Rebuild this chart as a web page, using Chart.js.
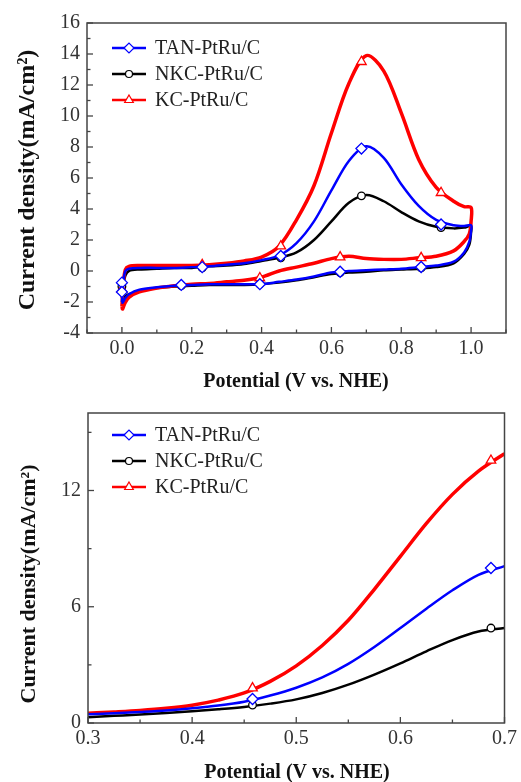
<!DOCTYPE html>
<html>
<head>
<meta charset="utf-8">
<script src="https://cdn.jsdelivr.net/npm/chart.js@4.4.0/dist/chart.umd.min.js"></script>
<style>
html,body{margin:0;padding:0;background:#fff}
#wrap{position:relative;width:521px;height:782px}
.box{position:absolute;left:0;width:521px}
</style>
</head>
<body>
<div id="wrap">
  <div class="box" style="top:0;height:392px"><canvas id="cvChart"></canvas></div>
  <div class="box" style="top:392px;height:390px"><canvas id="lsvChart"></canvas></div>
</div>
<script>
// ---------- series ----------
const seriesNames=['TAN-PtRu/C','NKC-PtRu/C','KC-PtRu/C'];
const seriesColors=['#0000ff','#000000','#ff0000'];
const seriesMarkers=['rectRot','circle','triangle'];

// ---------- top: cyclic voltammogram (forward then backward sweep) ----------
const cvPotential=[0.000,0.004,0.010,0.020,0.05,0.10,0.15,0.20,0.25,0.30,0.35,0.40,0.45,0.50,0.55,0.60,0.65,0.70,0.75,0.80,0.85,0.90,0.95,0.98,1.00,
  1.00,0.995,0.98,0.95,0.90,0.85,0.80,0.75,0.70,0.65,0.60,0.55,0.50,0.45,0.40,0.35,0.30,0.25,0.20,0.15,0.10,0.05,0.02,0.008,0.002,0.000];
const cvTan=[-2.0,-0.7,0.0,0.15,0.2,0.2,0.2,0.25,0.3,0.4,0.5,0.7,1.0,1.8,3.2,5.2,7.1,8.05,7.3,5.6,4.2,3.3,2.95,2.9,2.95,
  2.6,1.9,1.2,0.6,0.35,0.25,0.15,0.1,0.05,0.0,-0.1,-0.35,-0.55,-0.7,-0.85,-0.85,-0.85,-0.85,-0.9,-0.95,-1.05,-1.2,-1.5,-1.8,-2.05,-2.0];
const cvNkc=[-1.75,-0.9,-0.3,0.0,0.1,0.15,0.2,0.2,0.3,0.35,0.45,0.65,0.85,1.2,2.0,3.2,4.4,4.9,4.5,3.8,3.2,2.85,2.75,2.8,2.9,
  2.5,1.7,1.1,0.5,0.25,0.15,0.1,0.05,-0.05,-0.1,-0.2,-0.4,-0.6,-0.75,-0.85,-0.9,-0.9,-0.9,-0.95,-1.0,-1.1,-1.3,-1.5,-1.65,-1.75,-1.75];
const cvKc=[-2.3,-0.8,0.1,0.3,0.35,0.35,0.35,0.35,0.4,0.5,0.65,0.9,1.6,3.3,5.5,8.9,12.1,13.9,12.9,10.2,7.2,5.4,4.5,4.15,4.1,
  3.2,2.4,1.9,1.3,0.95,0.85,0.75,0.75,0.8,0.95,0.8,0.5,0.25,0.0,-0.4,-0.6,-0.7,-0.8,-0.85,-0.95,-1.1,-1.35,-1.7,-2.1,-2.45,-2.3];
// symbols along the recorded curves
const cvTanMarkE=[0.0,0.0,0.17,0.23,0.395,0.455,0.625,0.686,0.857,0.914];
const cvTanMarkJ=[-0.75,-1.35,-0.9,0.25,-0.85,0.97,-0.05,7.9,0.26,3.0];
const cvNkcMarkE=[0.0,0.17,0.23,0.395,0.455,0.625,0.686,0.857,0.914];
const cvNkcMarkJ=[-1.0,-0.95,0.2,-0.85,0.85,-0.1,4.85,0.2,2.8];
const cvKcMarkE=[0.0,0.23,0.395,0.455,0.625,0.686,0.857,0.914];
const cvKcMarkJ=[-1.2,0.4,-0.45,1.6,0.9,13.5,0.85,5.05];
const cvXTicks=[0.0,0.2,0.4,0.6,0.8,1.0];
const cvXMinor=[-0.1,0.1,0.3,0.5,0.7,0.9,1.1];
const cvYTicks=[-4,-2,0,2,4,6,8,10,12,14,16];
const cvYMinor=[-3,-1,1,3,5,7,9,11,13,15];

// ---------- bottom: forward sweep 0.3-0.7 V ----------
const lsvPotential=[0.3,0.325,0.35,0.375,0.4,0.425,0.45,0.475,0.5,0.525,0.55,0.575,0.6,0.625,0.65,0.675,0.7];
const lsvTan=[0.45,0.5,0.57,0.65,0.76,0.9,1.1,1.42,1.82,2.35,3.05,3.92,4.9,5.9,6.85,7.65,8.1];
const lsvNkc=[0.3,0.37,0.44,0.52,0.61,0.71,0.83,1.0,1.22,1.55,1.98,2.5,3.08,3.7,4.28,4.72,4.9];
const lsvKc=[0.5,0.57,0.65,0.76,0.92,1.18,1.55,2.15,2.95,4.0,5.3,6.9,8.6,10.3,11.8,13.0,13.9];
const lsvMarkE=[0.458,0.687];
const lsvTanMarkJ=[1.24,8.0];
const lsvNkcMarkJ=[0.93,4.9];
const lsvKcMarkJ=[1.8,13.55];
const lsvXTicks=[0.3,0.4,0.5,0.6,0.7];
const lsvXMinor=[0.35,0.45,0.55,0.65];
const lsvYTicks=[0,6,12];
const lsvYMinor=[3,9,15];

const SERIF='"Liberation Serif","Times New Roman",serif';
const pts=(xs,ys)=>xs.map((x,i)=>({x,y:ys[i]}));

// frame, inward ticks, axis titles and legend
const decor={id:'decor',afterDatasetsDraw(chart,args,o){
  const {ctx,chartArea:a,scales:{x,y}}=chart;
  ctx.save();
  ctx.strokeStyle='#444';ctx.lineWidth=1.5;
  ctx.strokeRect(a.left,a.top,a.right-a.left,a.bottom-a.top);
  ctx.lineWidth=1.3;
  const tk=(vals,len,hz)=>vals.forEach(v=>{
    ctx.beginPath();
    if(hz){const p=x.getPixelForValue(v);ctx.moveTo(p,a.bottom);ctx.lineTo(p,a.bottom-len);}
    else{const p=y.getPixelForValue(v);ctx.moveTo(a.left,p);ctx.lineTo(a.left+len,p);}
    ctx.stroke();
  });
  tk(o.xMajor,6,true);tk(o.xMinor,3.5,true);tk(o.yMajor,6,false);tk(o.yMinor,3.5,false);

  // titles
  ctx.fillStyle='#111';ctx.textAlign='center';ctx.textBaseline='middle';
  ctx.font='bold '+o.xTitle.size+'px '+SERIF;
  ctx.fillText(o.xTitle.text,o.xTitle.x,o.xTitle.y);
  ctx.save();
  ctx.translate(o.yTitle.x,o.yTitle.y);ctx.rotate(-Math.PI/2);
  ctx.font='bold '+o.yTitle.size+'px '+SERIF;
  ctx.fillText(o.yTitle.text,0,0);
  ctx.restore();

  // legend
  ctx.textAlign='left';ctx.font='20px '+SERIF;
  seriesNames.forEach((name,i)=>{
    const ly=o.legend.y+i*o.legend.gap;
    ctx.strokeStyle=seriesColors[i];ctx.lineWidth=2.5;
    ctx.beginPath();ctx.moveTo(112,ly);ctx.lineTo(146,ly);ctx.stroke();
    ctx.fillStyle='#fff';ctx.lineWidth=1.2;
    Chart.helpers.drawPoint(ctx,{pointStyle:seriesMarkers[i],radius:i===1?3.5:5,rotation:0,borderWidth:1.2},129,ly);
    ctx.fillStyle='#222';
    ctx.fillText(name,155,ly+1);
  });
  ctx.restore();
}};

function makeChart(id,lines,marks,ax,deco,padTop,smooth){
  const order=[0,2,1]; // blue on top, then red, black underneath
  const datasets=[];
  lines.forEach((d,i)=>datasets.push(Object.assign({
    label:seriesNames[i],data:d,showLine:true,borderColor:seriesColors[i],
    borderWidth:i===2?3.5:2.5,pointRadius:0,order:order[i]+3
  },smooth)));
  marks.forEach((d,i)=>datasets.push({
    label:seriesNames[i]+' symbols',data:d,showLine:false,pointStyle:seriesMarkers[i],
    pointRadius:i===1?3.8:5.5,pointBorderColor:seriesColors[i],pointBackgroundColor:'#fff',
    pointBorderWidth:1.3,order:order[i]
  }));
  const tickFont={family:SERIF,size:20};
  return new Chart(document.getElementById(id),{
    type:'scatter',
    data:{datasets},
    options:{
      responsive:true,maintainAspectRatio:false,animation:false,devicePixelRatio:1,
      layout:{padding:{top:padTop,right:15,left:0,bottom:0}},
      plugins:{legend:{display:false},tooltip:{enabled:false},decor:deco},
      scales:{
        x:{type:'linear',min:ax.xMin,max:ax.xMax,
          grid:{display:false,drawTicks:false},border:{display:false},
          afterBuildTicks:s=>{s.ticks=ax.xTicks.map(v=>({value:v}));},
          afterFit:s=>{s.height=59;},
          ticks:{color:'#333',font:tickFont,padding:4,maxRotation:0,autoSkip:false,callback:v=>v.toFixed(1)}},
        y:{type:'linear',min:ax.yMin,max:ax.yMax,
          grid:{display:false,drawTicks:false},border:{display:false},
          afterBuildTicks:s=>{s.ticks=ax.yTicks.map(v=>({value:v}));},
          afterFit:s=>{s.width=ax.yWidth;},
          ticks:{color:'#333',font:tickFont,padding:7,autoSkip:false,callback:v=>String(v)}}
      }
    },
    plugins:[decor]
  });
}

makeChart('cvChart',
  [pts(cvPotential,cvTan),pts(cvPotential,cvNkc),pts(cvPotential,cvKc)],
  [pts(cvTanMarkE,cvTanMarkJ),pts(cvNkcMarkE,cvNkcMarkJ),pts(cvKcMarkE,cvKcMarkJ)],
  {xMin:-0.1,xMax:1.1,yMin:-4,yMax:16,xTicks:cvXTicks,yTicks:cvYTicks,yWidth:87},
  {xMajor:cvXTicks,xMinor:cvXMinor,yMajor:cvYTicks,yMinor:cvYMinor,
   xTitle:{text:'Potential (V vs. NHE)',size:20,x:296,y:382},
   yTitle:{text:'Current density(mA/cm²)',size:24,x:28,y:180},
   legend:{y:48,gap:26}},
  23,{tension:0.32});

makeChart('lsvChart',
  [pts(lsvPotential,lsvTan),pts(lsvPotential,lsvNkc),pts(lsvPotential,lsvKc)],
  [pts(lsvMarkE,lsvTanMarkJ),pts(lsvMarkE,lsvNkcMarkJ),pts(lsvMarkE,lsvKcMarkJ)],
  {xMin:0.3,xMax:0.7,yMin:0,yMax:16,xTicks:lsvXTicks,yTicks:lsvYTicks,yWidth:88},
  {xMajor:lsvXTicks,xMinor:lsvXMinor,yMajor:lsvYTicks,yMinor:lsvYMinor,
   xTitle:{text:'Potential (V vs. NHE)',size:20,x:297,y:381},
   yTitle:{text:'Current density(mA/cm²)',size:22,x:29,y:192},
   legend:{y:43,gap:26}},
  21,{cubicInterpolationMode:'monotone'});
</script>
</body>
</html>
